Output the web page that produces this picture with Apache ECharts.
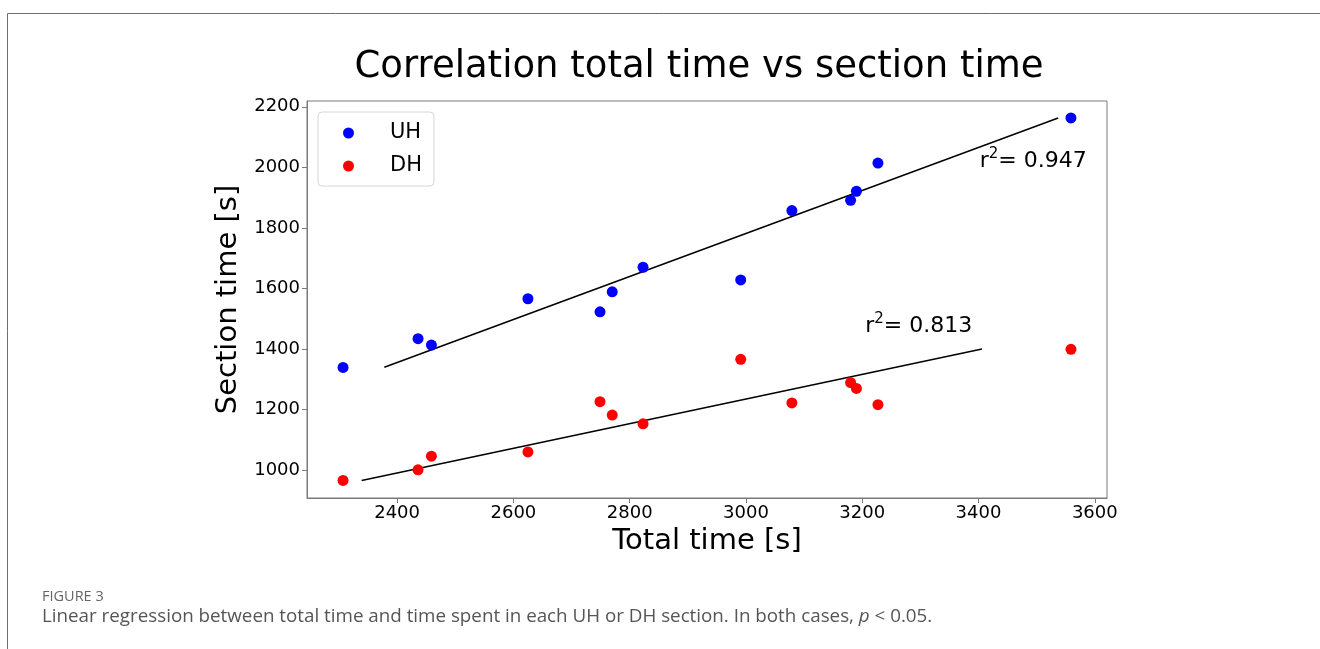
<!DOCTYPE html>
<html>
<head>
<meta charset="utf-8">
<title>Correlation total time vs section time</title>
<script src="https://cdn.jsdelivr.net/npm/echarts@6/dist/echarts.min.js"></script>
<style>
  html, body { margin: 0; padding: 0; background: #fff; }
  #chart { width: 1320px; height: 649px; }
</style>
</head>
<body>
<div id="chart"></div>
<script>
// Total time per run [s] (shared by both sections)
const totalTime = [2307, 2436, 2459, 2625, 2749, 2770, 2823, 2991, 3079, 3180, 3190, 3227, 3559];
// Time spent in the uphill section [s]
const uhTime = [1339, 1434, 1413, 1566, 1523, 1589, 1670, 1628, 1857, 1891, 1921, 2014, 2163];
// Time spent in the downhill section [s]
const dhTime = [966, 1001, 1046, 1060, 1226, 1182, 1153, 1366, 1222, 1289, 1270, 1216, 1399];

// Regression line end points
const uhFitX = [2378, 3537];
const uhFitY = [1340, 2163];
const dhFitX = [2339, 3406];
const dhFitY = [966, 1400];

// Coefficients of determination and where their labels sit
const uhR2 = '0.947';
const dhR2 = '0.813';
const uhR2Pos = [3402, 2034];
const dhR2Pos = [3205, 1489];

// Tick labels
const xTicks = [2400, 2600, 2800, 3000, 3200, 3400, 3600];
const yTicks = [1000, 1200, 1400, 1600, 1800, 2000, 2200];

const pairs = (xs, ys) => xs.map((x, i) => [x, ys[i]]);

const FONT = '"DejaVu Sans"';
const chart = echarts.init(document.getElementById('chart'), null, { renderer: 'canvas' });

const r2Label = (val) => ({
  show: true,
  position: 'right',
  distance: 0,
  color: '#000',
  textBorderWidth: 0,
  formatter: '{r|r}{s|2}{t|= ' + val + '}',
  rich: {
    r: { fontFamily: FONT, fontSize: 22, color: '#000', lineHeight: 30, verticalAlign: 'bottom' },
    s: { fontFamily: FONT, fontSize: 15, color: '#000', lineHeight: 30, verticalAlign: 'top', padding: [5, 0, 0, 0] },
    t: { fontFamily: FONT, fontSize: 22, color: '#000', lineHeight: 30, verticalAlign: 'bottom' }
  }
});

const option = {
  animation: false,
  backgroundColor: '#fff',
  title: {
    text: 'Correlation total time vs section time',
    left: 694,
    textAlign: 'center',
    top: 44,
    textStyle: { fontFamily: FONT, fontSize: 37, fontWeight: 'normal', color: '#000' }
  },
  legend: {
    data: ['UH', 'DH'],
    orient: 'vertical',
    left: 318,
    top: 112,
    icon: 'circle',
    itemWidth: 11,
    itemHeight: 11,
    itemGap: 11,
    padding: [10, 12, 9, 25],
    borderColor: '#d6d6d6',
    borderWidth: 1,
    borderRadius: 4,
    backgroundColor: 'rgba(255,255,255,0.8)',
    textStyle: { fontFamily: FONT, fontSize: 21, color: '#000', lineHeight: 22, padding: [0, 0, 0, 31] }
  },
  grid: {
    left: 307,
    right: 213,
    top: 101,
    bottom: 151,
    show: true,
    borderColor: '#7a7a7a',
    borderWidth: 1,
    backgroundColor: 'transparent'
  },
  xAxis: {
    type: 'value',
    min: 2245,
    max: 3621,
    name: 'Total time [s]',
    nameLocation: 'middle',
    nameGap: 24,
    nameTextStyle: { fontFamily: FONT, fontSize: 29, color: '#000' },
    axisLine: { show: true, lineStyle: { color: '#7a7a7a', width: 1 } },
    axisTick: { show: true, length: 5, lineStyle: { color: '#7a7a7a' }, customValues: xTicks },
    axisLabel: { fontFamily: FONT, fontSize: 18, color: '#000', margin: 6, customValues: xTicks, formatter: (v) => String(v) },
    splitLine: { show: false }
  },
  yAxis: {
    type: 'value',
    min: 908,
    max: 2219,
    name: 'Section time [s]',
    nameLocation: 'middle',
    nameGap: 43,
    nameTextStyle: { fontFamily: FONT, fontSize: 29, color: '#000' },
    axisLine: { show: true, lineStyle: { color: '#7a7a7a', width: 1 } },
    axisTick: { show: true, length: 5, lineStyle: { color: '#7a7a7a' }, customValues: yTicks },
    axisLabel: { fontFamily: FONT, fontSize: 18, color: '#000', margin: 7, customValues: yTicks, formatter: (v) => String(v) },
    splitLine: { show: false }
  },
  series: [
    {
      name: 'UH fit',
      type: 'line',
      data: pairs(uhFitX, uhFitY),
      showSymbol: false,
      silent: true,
      z: 1,
      lineStyle: { color: '#000', width: 1.5 }
    },
    {
      name: 'DH fit',
      type: 'line',
      data: pairs(dhFitX, dhFitY),
      showSymbol: false,
      silent: true,
      z: 1,
      lineStyle: { color: '#000', width: 1.5 }
    },
    {
      name: 'UH',
      type: 'scatter',
      data: pairs(totalTime, uhTime),
      symbolSize: 11,
      z: 3,
      itemStyle: { color: '#0000ff', opacity: 1 }
    },
    {
      name: 'DH',
      type: 'scatter',
      data: pairs(totalTime, dhTime),
      symbolSize: 11,
      z: 3,
      itemStyle: { color: '#ff0000', opacity: 1 }
    },
    {
      name: 'r2',
      type: 'scatter',
      silent: true,
      symbolSize: 0,
      itemStyle: { opacity: 1 },
      data: [
        { value: uhR2Pos, label: r2Label(uhR2) },
        { value: dhR2Pos, label: r2Label(dhR2) }
      ]
    }
  ],
  graphic: [
    {
      type: 'polyline',
      silent: true,
      shape: { points: [[7.5, 649], [7.5, 13.5], [1320, 13.5]] },
      style: { stroke: '#6e6e6e', lineWidth: 1, fill: null }
    },
    {
      type: 'text',
      left: 42,
      top: 589,
      style: {
        text: 'FIGURE 3',
        fontFamily: 'Open Sans',
        fontSize: 14.5,
        fill: '#666'
      }
    },
    {
      type: 'text',
      left: 42,
      top: 607,
      style: {
        text: '{n|Linear regression between total time and time spent in each UH or DH section. In both cases, }{i|p}{n| < 0.05.}',
        rich: {
          n: { fontFamily: 'Open Sans', fontSize: 18.8, fill: '#555', color: '#555' },
          i: { fontFamily: 'Open Sans', fontSize: 18.8, fontStyle: 'italic', fill: '#555', color: '#555' }
        }
      }
    }
  ]
};

chart.setOption(option);
</script>
</body>
</html>
